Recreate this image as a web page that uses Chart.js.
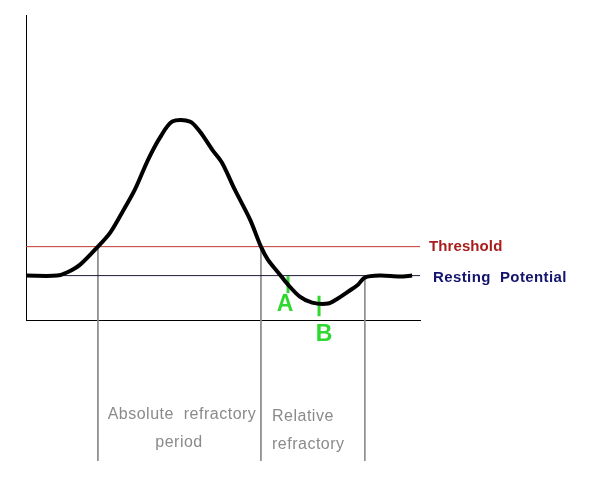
<!DOCTYPE html>
<html>
<head>
<meta charset="utf-8">
<title>Action potential</title>
<script src="https://cdn.jsdelivr.net/npm/chart.js@4.4.1/dist/chart.umd.min.js"></script>
<style>
  html, body { margin: 0; padding: 0; background: #fff; }
  #wrap { width: 595px; height: 493px; position: relative; }
</style>
</head>
<body>
<div id="wrap"><canvas id="apChart"></canvas></div>
<script>
// membrane trace, time in ms, voltage in mV
const timeMs = [0, 0.63, 0.83, 1.10, 1.46, 1.71, 1.95, 2.21, 2.48, 2.72, 2.97, 3.33, 3.53, 3.78, 3.98, 4.24, 4.55, 4.77, 4.91, 5.12, 5.32, 5.56, 5.81, 6.13, 6.30, 6.54, 6.74, 6.88, 7.19, 7.59, 7.84];
const voltage = [-70, -70, -68.4, -64.3, -55, -47.7, -37.4, -25.5, -9.9, 1.5, 9.8, 9.8, 4.6, -4.7, -11.5, -25.5, -41, -55, -61.7, -68.4, -74.7, -80.9, -84, -84.5, -82.4, -78.3, -74.7, -71, -70, -70.5, -70];

const thresholdMv = -55;
const restingMv = -70;
// period boundaries (ms)
const periodEdges = [1.46, 4.77, 6.88];
// marker ticks A and B
const markerNames = ['A', 'B'];
const markerTime = [5.32, 5.95];
const markerTop = [-70.3, -80.4];
const markerBottom = [-79.0, -91.0];

const X_MAX = 8;
const Y_MIN = -93, Y_MAX = 65;
const LINE_BOTTOM = -166;

const colors = {
  trace: '#000000',
  threshold: '#c0392f',
  resting: '#1c1c3a',
  guide: '#8c8c8c',
  green: '#2fd82f',
  thresholdText: '#a81c1c',
  restingText: '#14146e',
  label: '#8a8a8a'
};

const vLines = periodEdges.map((t, i) => ({
  data: [{ x: t, y: i < 2 ? thresholdMv : restingMv - 0.5 }, { x: t, y: LINE_BOTTOM }],
  borderColor: colors.guide,
  borderWidth: 1,
  pointRadius: 0,
  clip: false
}));

const ticks = markerTime.map((t, i) => ({
  data: [{ x: t, y: markerTop[i] }, { x: t, y: markerBottom[i] }],
  borderColor: colors.green,
  borderWidth: 3,
  pointRadius: 0,
  clip: false
}));

const textPlugin = {
  id: 'labels',
  afterDatasetsDraw(chart) {
    const { ctx, scales: { x, y } } = chart;
    ctx.save();
    ctx.textBaseline = 'middle';

    ctx.font = 'bold 15px "Liberation Sans", Arial, sans-serif';
    ctx.fillStyle = colors.thresholdText;
    ctx.textAlign = 'left';
    ctx.letterSpacing = '0.1px';
    ctx.fillText('Threshold', x.right + 9, y.getPixelForValue(thresholdMv));
    ctx.fillStyle = colors.restingText;
    ctx.letterSpacing = '0.4px';
    ctx.fillText('Resting  Potential', x.right + 13, y.getPixelForValue(restingMv) + 2);

    ctx.font = '16px "Liberation Sans", Arial, sans-serif';
    ctx.fillStyle = colors.label;
    ctx.letterSpacing = '0.5px';
    ctx.textAlign = 'center';
    const bottom = y.bottom;
    ctx.fillText('Absolute  refractory', 182, bottom + 95);
    ctx.fillText('period', 179, bottom + 123);
    ctx.textAlign = 'left';
    ctx.fillText('Relative', 272, bottom + 97);
    ctx.fillText('refractory', 272, bottom + 125);

    ctx.letterSpacing = '0px';
    ctx.font = 'bold 23px "Liberation Sans", Arial, sans-serif';
    ctx.fillStyle = colors.green;
    ctx.textAlign = 'center';
    ctx.fillText(markerNames[0], x.getPixelForValue(markerTime[0]) - 3, y.getPixelForValue(markerBottom[0]) + 12);
    ctx.fillText(markerNames[1], x.getPixelForValue(markerTime[1]) + 5, y.getPixelForValue(markerBottom[1]) + 19);
    ctx.restore();
  }
};

new Chart(document.getElementById('apChart'), {
  type: 'line',
  data: {
    datasets: [
      {
        data: timeMs.map((t, i) => ({ x: t, y: voltage[i] })),
        borderColor: colors.trace,
        borderWidth: 4,
        pointRadius: 0,
        tension: 0.3
      },
      {
        data: [{ x: 0, y: thresholdMv }, { x: X_MAX, y: thresholdMv }],
        borderColor: colors.threshold,
        borderWidth: 1,
        pointRadius: 0
      },
      {
        data: [{ x: 0, y: restingMv }, { x: X_MAX, y: restingMv }],
        borderColor: colors.resting,
        borderWidth: 1,
        pointRadius: 0
      },
      ...vLines,
      ...ticks
    ]
  },
  options: {
    responsive: true,
    maintainAspectRatio: false,
    animation: false,
    layout: { padding: { left: 26, top: 15, right: 175, bottom: 173 } },
    plugins: { legend: { display: false }, tooltip: { enabled: false } },
    scales: {
      x: {
        type: 'linear', min: 0, max: X_MAX,
        grid: { display: false, drawTicks: false },
        ticks: { display: false },
        border: { display: true, color: '#000', width: 1 }
      },
      y: {
        min: Y_MIN, max: Y_MAX,
        grid: { display: false, drawTicks: false },
        ticks: { display: false },
        border: { display: true, color: '#000', width: 1 }
      }
    }
  },
  plugins: [textPlugin]
});
</script>
</body>
</html>
